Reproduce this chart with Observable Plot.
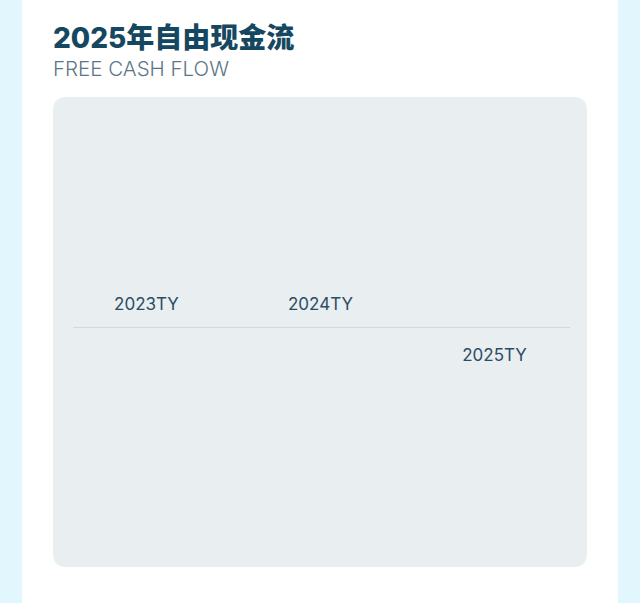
<!DOCTYPE html>
<html>
<head>
<meta charset="utf-8">
<script src="https://cdn.jsdelivr.net/npm/d3@7"></script>
<script src="https://cdn.jsdelivr.net/npm/@observablehq/plot@0.6"></script>
<style>
  html, body { margin: 0; padding: 0; }
  body { width: 640px; height: 603px; background: #e2f6fd; position: relative; overflow: hidden; font-family: Inter, "Noto Sans CJK SC", sans-serif; }
  #card { position: absolute; left: 22px; top: 0; width: 596px; height: 603px; background: #ffffff; }
  #title { position: absolute; left: 53px; top: 18px; margin: 0; font-family: Inter, "Noto Sans CJK SC", sans-serif; font-weight: 800; font-size: 28px; color: #154860; line-height: 40px; white-space: nowrap; }
  #subtitle { position: absolute; left: 53px; top: 55px; margin: 0; font-family: Inter, sans-serif; font-weight: 300; font-size: 20.5px; color: #5b7687; line-height: 28px; white-space: nowrap; }
  #panel { position: absolute; left: 53px; top: 97px; width: 534px; height: 470px; background: #e9eef1; border-radius: 12px; overflow: hidden; }
  #panel svg { display: block; }
</style>
</head>
<body>
<div id="card"></div>
<div id="title">2025年自由现金流</div>
<div id="subtitle">FREE CASH FLOW</div>
<div id="panel"></div>
<script>
const years = ["2023TY", "2024TY", "2025TY"];
const fcf = [4.2, 5.1, -8.6];
const data = years.map((y, i) => ({year: y, value: fcf[i]}));

const chart = Plot.plot({
  width: 534,
  height: 470,
  marginLeft: 6,
  marginRight: 6,
  marginTop: 0,
  marginBottom: 10,
  style: {background: "transparent", fontFamily: "Inter, sans-serif"},
  x: {domain: years, padding: 0, axis: null},
  y: {domain: [-10, 10], axis: null},
  marks: [
    Plot.barY(data, {x: "year", y: "value", fill: "#e9eef1", fillOpacity: 0, inset: 40}),
    Plot.ruleY([0], {stroke: "#d0d9de", strokeWidth: 1, insetLeft: 14, insetRight: 11}),
    Plot.text(data.filter(d => d.value >= 0), {x: "year", y: 0, text: "year", dy: -23, fill: "#2b4d63", fontSize: 17}),
    Plot.text(data.filter(d => d.value < 0), {x: "year", y: 0, text: "year", dy: 28, fill: "#2b4d63", fontSize: 17})
  ]
});
document.getElementById("panel").appendChild(chart);
</script>
</body>
</html>
